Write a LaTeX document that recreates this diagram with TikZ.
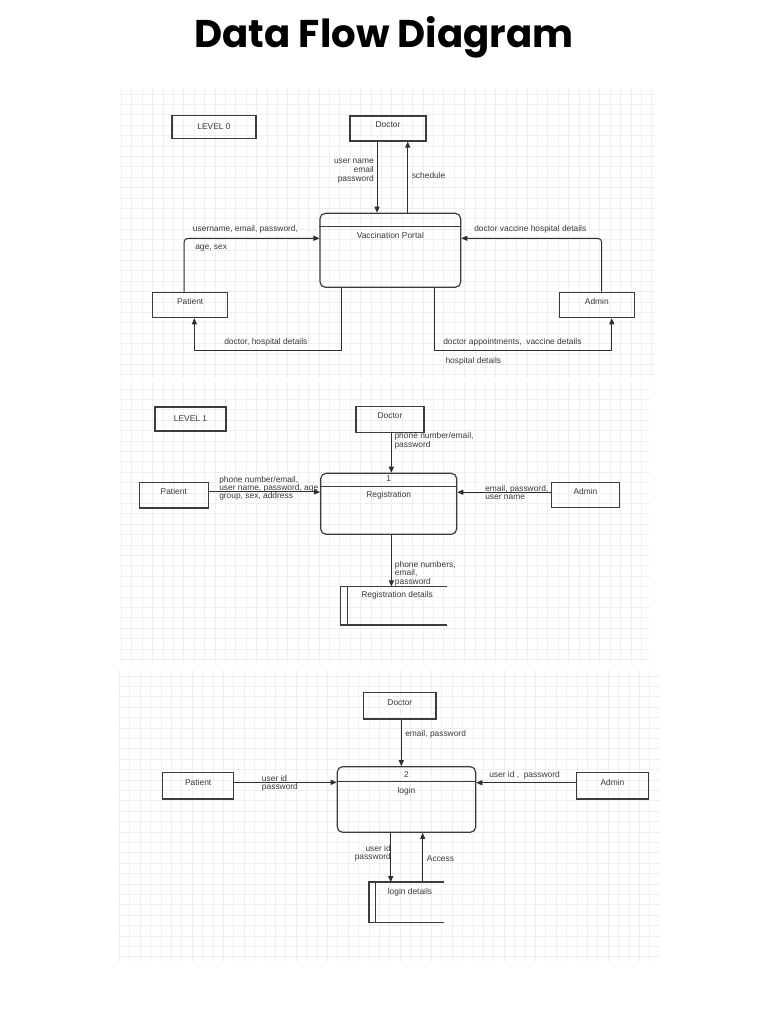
\documentclass[tikz,border=0pt]{standalone}
\usepackage{fontspec}
\setmainfont{Liberation Sans}
\newfontfamily\titlefont{Poppins}
\usepackage{tikz}
\usetikzlibrary{arrows.meta, positioning}
\definecolor{DfdBox}{HTML}{3C3C3C}
\definecolor{DfdLine}{HTML}{2E2E2E}
\definecolor{DfdText}{HTML}{383838}
\definecolor{DfdGrid}{HTML}{EFEFEF}

\begin{document}
\begin{tikzpicture}[x=0.75pt, y=-0.75pt,
        every node/.style={font=\fontsize{6.3}{6.6}\selectfont, text=DfdText},
        gridline/.style={draw=DfdGrid, line width=0.5pt},
        levelbox/.style={draw=DfdBox, line width=0.9pt, minimum height=17pt, inner sep=1pt},
        entity/.style={draw=DfdBox, line width=0.9pt, minimum height=19pt, inner sep=1pt, text height=4.6pt, text depth=5.4pt},
        process/.style={draw=DfdBox, line width=0.9pt, rounded corners=4pt, inner sep=0pt},
        store/.style={inner sep=0pt},
        flow/.style={draw=DfdLine, line width=0.75pt, -{Triangle[length=4.5pt, width=3.8pt]}},
        flowlabel/.style={inner sep=0pt, align=left},
        flowlabelr/.style={inner sep=0pt, align=right}
    ]
    \useasboundingbox (0,0) rectangle (768,1024);

    % Title
    \node (title) at (384,37) {\titlefont\bfseries\fontsize{29}{29}\selectfont\color{black} Data Flow Diagram};

    % Grid panels
    \foreach \xa/\ya/\xb/\yb in {120/88/655/378, 120/383/650/662, 118/670/660/962} {
        \begin{scope}
            \clip (\xa,\ya) rectangle (\xb,\yb);
            \foreach \g in {0,...,52} \draw[gridline] (\xa+1.3+\g*10.4,\ya) -- (\xa+1.3+\g*10.4,\yb);
            \foreach \g in {0,...,28} \draw[gridline] (\xa,\ya+6+\g*10.4) -- (\xb,\ya+6+\g*10.4);
        \end{scope}
    }

    % ---------------- Level 0 ----------------
    \node[levelbox, minimum width=63pt] (lvl0) at (214,127) {LEVEL 0};
    \node[entity, minimum width=57pt, minimum height=18.75pt] (doc0) at (388,128.5) {Doctor};
    \node[entity, minimum width=56.25pt] (pat0) at (190.2,305) {Patient};
    \node[entity, minimum width=56.25pt] (adm0) at (596.8,305) {Admin};
    \node[process, minimum width=105.5pt, minimum height=55.5pt] (portal) at (390.35,250.3) {};
    \draw[DfdBox, line width=0.75pt] ([yshift=-10.5pt]portal.north west) -- ([yshift=-10.5pt]portal.north east);
    \node (portalname) at ([yshift=-17pt]portal.north) {Vaccination Portal};

    \draw[flow] ([xshift=-8.25pt]doc0.south) -- ([xshift=-8.25pt]doc0.south |- portal.north);
    \draw[flow] ([xshift=14.8pt]doc0.south |- portal.north) -- ([xshift=14.8pt]doc0.south);
    \draw[flow, rounded corners=3pt] ([xshift=-4.65pt]pat0.north) |- ([yshift=9pt]portal.west);
    \draw[flow, rounded corners=3pt] ([xshift=3.7pt]adm0.north) |- ([yshift=9pt]portal.east);
    \draw[flow] ([xshift=-37pt]portal.south) -- ++(0,63) -| ([xshift=3.1pt]pat0.south);
    \draw[flow] ([xshift=33pt]portal.south) -- ++(0,63) -| ([xshift=11.2pt]adm0.south);

    \node[flowlabelr, anchor=east, font=\fontsize{6.3}{6.75}\selectfont] (lbluser0) at (374,171) {user name\\email\\password};
    \node[flowlabel, anchor=west] (lblsched0) at (411.5,175.7) {schedule};
    \node[flowlabel, anchor=west] (lblpat0a) at (192.7,229.7) {username, email, password,};
    \node[flowlabel, anchor=west] (lblpat0b) at (195,248) {age, sex};
    \node[flowlabel, anchor=west] (lbladm0) at (474,229.7) {doctor vaccine hospital details};
    \node[flowlabel, anchor=west] (lblback0) at (224,342.7) {doctor, hospital details};
    \node[flowlabel, anchor=west] (lblappt0a) at (443,342.7) {doctor appointments,\ \ vaccine details};
    \node[flowlabel, anchor=west] (lblappt0b) at (445.3,361.3) {hospital details};

    % ---------------- Level 1 ----------------
    \node[levelbox, minimum width=53.25pt, minimum height=18pt] (lvl1) at (190.5,419) {LEVEL 1};
    \node[entity, minimum width=51pt] (doc1) at (390,419.5) {Doctor};
    \node[entity, minimum width=51.75pt] (pat1) at (173.8,495.3) {Patient};
    \node[entity, minimum width=50.7pt] (adm1) at (585.5,495.2) {Admin};
    \node[process, minimum width=102pt, minimum height=45.75pt] (reg) at (388.7,503.8) {};
    \draw[DfdBox, line width=0.75pt] ([yshift=-10.5pt]reg.north west) -- ([yshift=-10.5pt]reg.north east);
    \node (regno) at ([yshift=-4.5pt]reg.north) {1};
    \node (regname) at ([yshift=-17pt]reg.north) {Registration};
    \node[store, minimum width=79.5pt, minimum height=28.5pt] (regdet) at (393.7,605.7) {};
    \draw[DfdBox, line width=0.9pt] (regdet.north east) -- (regdet.north west) -- (regdet.south west) -- (regdet.south east);
    \draw[DfdBox, line width=0.75pt] ([xshift=5pt]regdet.north west) -- ([xshift=5pt]regdet.south west);
    \node (regdettxt) at ([xshift=2.5pt, yshift=-6.75pt]regdet.north) {Registration details};

    \draw[flow] ([xshift=1pt]doc1.south) -- ([xshift=1pt]doc1.south |- reg.north);
    \draw[flow] ([yshift=2.5pt]pat1.east) -- ([yshift=2.5pt]pat1.east -| reg.west);
    \draw[flow] ([yshift=2.2pt]adm1.west) -- ([yshift=2.2pt]adm1.west -| reg.east);
    \draw[flow] ([xshift=2pt]reg.south) -- ([xshift=2pt]reg.south |- regdet.north);

    \node[flowlabel, anchor=west, font=\fontsize{6.3}{6.25}\selectfont] (lbldoc1) at (394.3,440.7) {phone number/email,\\password};
    \node[flowlabel, anchor=west, font=\fontsize{6.3}{6.25}\selectfont] (lblpat1) at (219,488.3) {phone number/email,\\user name, password, age\\group, sex, address};
    \node[flowlabel, anchor=west, font=\fontsize{6.3}{6.25}\selectfont] (lbladm1) at (485,492.3) {email, password,\\user name};
    \node[flowlabel, anchor=west, font=\fontsize{6.3}{6.25}\selectfont] (lblreg1) at (394.7,573.7) {phone numbers,\\email,\\password};

    % ---------------- Level 2 ----------------
    \node[entity, minimum width=54.2pt, minimum height=20pt] (doc2) at (399.85,705.65) {Doctor};
    \node[entity, minimum width=53.25pt, minimum height=20pt] (pat2) at (198.2,785.65) {Patient};
    \node[entity, minimum width=53.7pt, minimum height=20pt] (adm2) at (612.5,785.65) {Admin};
    \node[process, minimum width=103.8pt, minimum height=49.2pt] (login) at (406.5,799.5) {};
    \draw[DfdBox, line width=0.75pt] ([yshift=-11.7pt]login.north west) -- ([yshift=-11.7pt]login.north east);
    \node (loginno) at ([yshift=-6.2pt]login.north) {2};
    \node (loginname) at ([yshift=-18.75pt]login.north) {login};
    \node[store, minimum width=56pt, minimum height=30pt] (logdet) at (406.65,902.3) {};
    \draw[DfdBox, line width=0.9pt] (logdet.north east) -- (logdet.north west) -- (logdet.south west) -- (logdet.south east);
    \draw[DfdBox, line width=0.75pt] ([xshift=4.8pt]logdet.north west) -- ([xshift=4.8pt]logdet.south west);
    \node (logdettxt) at ([xshift=2.5pt, yshift=-7.5pt]logdet.north) {login details};

    \draw[flow] ([xshift=1.1pt]doc2.south) -- ([xshift=1.1pt]doc2.south |- login.north);
    \draw[flow] ([yshift=2.5pt]pat2.east) -- ([yshift=2.5pt]pat2.east -| login.west);
    \draw[flow] ([yshift=2.2pt]adm2.west) -- ([yshift=2.2pt]adm2.west -| login.east);
    \draw[flow] ([xshift=-11.85pt]login.south) -- ([xshift=-11.85pt]login.south |- logdet.north);
    \draw[flow] ([xshift=12.15pt]login.south |- logdet.north) -- ([xshift=12.15pt]login.south);

    \node[flowlabel, anchor=west] (lbldoc2) at (405,734) {email, password};
    \node[flowlabel, anchor=west, font=\fontsize{6.3}{6.25}\selectfont] (lblpat2) at (261.7,783.2) {user id\\password};
    \node[flowlabel, anchor=west] (lbladm2) at (489,775) {user id ,\ \ password};
    \node[flowlabelr, anchor=east, font=\fontsize{6.3}{6.25}\selectfont] (lbllog2) at (391,853.3) {user id\\password};
    \node[flowlabel, anchor=west] (lblacc2) at (426.7,859) {Access};

\end{tikzpicture}
\end{document}
